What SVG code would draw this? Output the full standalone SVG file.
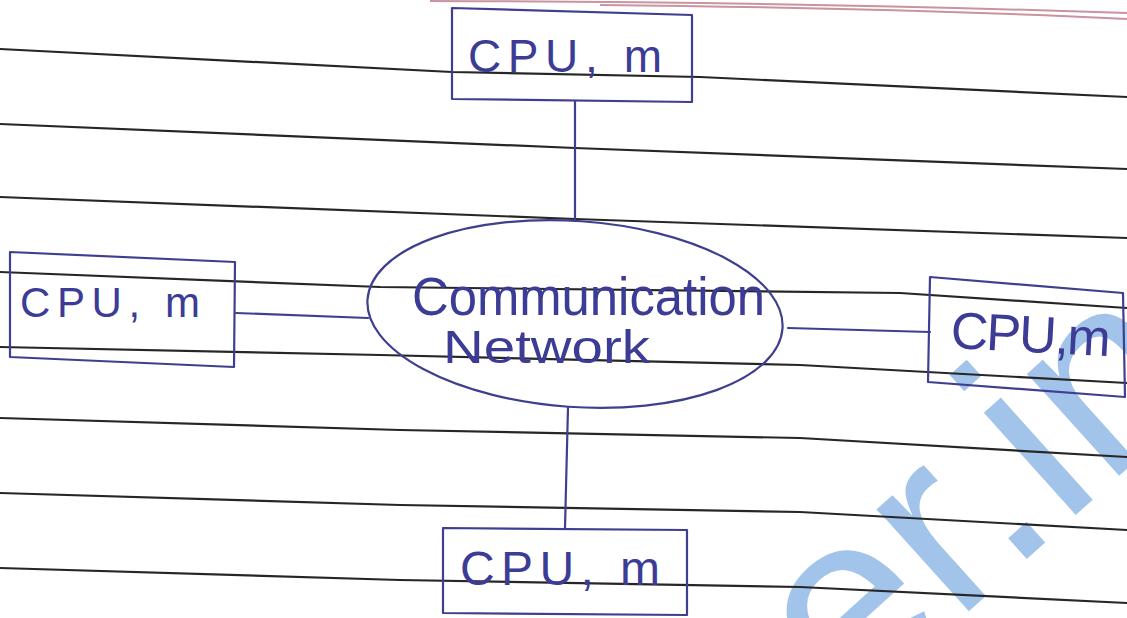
<svg xmlns="http://www.w3.org/2000/svg" width="1127" height="618" viewBox="0 0 1127 618">
<style>
.rule{fill:none;stroke:#262626;stroke-width:2.2;stroke-linejoin:round;stroke-linecap:round}
.pink{fill:none;stroke:#c9939f;stroke-width:2}
.box{fill:none;stroke:#3f3f8f;stroke-width:2.2;stroke-linejoin:round}
.edge{fill:none;stroke:#3f3f8f;stroke-width:2.2;stroke-linecap:round}
.lbl{font-family:"Liberation Sans",Arial,sans-serif;fill:#3c3c96}
.wm{font-family:"Liberation Sans",Arial,sans-serif;fill:#a3c4ea;font-size:260px}
</style>
<rect width="1127" height="618" fill="#ffffff"/>
<g id="watermark">
<text class="wm" x="0" y="0" transform="translate(848,720) rotate(-42)">er.in</text>
</g>
<g id="paper">
<path class="pink" d="M430,1 Q800,2 1127,13"/>
<path class="pink" d="M600,5 Q900,8 1127,19"/>
<polyline class="rule" points="0,49 452,72 700,77 1127,97"/>
<polyline class="rule" points="0,124 575,148 1127,169"/>
<polyline class="rule" points="0,197 575,219 1127,238"/>
<polyline class="rule" points="0,272 380,287 900,293 1127,308"/>
<polyline class="rule" points="0,347 380,355 800,365 1127,383"/>
<polyline class="rule" points="0,418 400,430 800,438 1127,457"/>
<polyline class="rule" points="0,493 400,505 800,512 1127,530"/>
<polyline class="rule" points="0,568 400,580 800,587 1127,603"/>
</g>
<g id="connectors">
<line class="edge" x1="575" y1="101" x2="575" y2="221"/>
<line class="edge" x1="236" y1="313" x2="368" y2="318"/>
<line class="edge" x1="788" y1="328" x2="930" y2="332"/>
<line class="edge" x1="568" y1="407" x2="565" y2="528"/>
</g>
<g id="network">
<ellipse class="box" cx="575" cy="314" rx="208" ry="93" transform="rotate(4 575 314)"/>
<text class="lbl" x="412" y="315" font-size="54" textLength="353" lengthAdjust="spacingAndGlyphs">Communication</text>
<text class="lbl" x="443" y="363" font-size="46" textLength="207" lengthAdjust="spacingAndGlyphs">Network</text>
</g>
<g id="cpu-top">
<polygon class="box" points="452,8 692,15 692,102 452,99"/>
<text class="lbl" x="468" y="72" font-size="46" textLength="194" lengthAdjust="spacing">CPU, m</text>
</g>
<g id="cpu-left">
<polygon class="box" points="10,252 235,262 234,367 10,357"/>
<text class="lbl" x="20" y="317" font-size="42" textLength="180" lengthAdjust="spacing">CPU, m</text>
</g>
<g id="cpu-right">
<polygon class="box" points="930,277 1123,293 1125,397 928,382"/>
<text class="lbl" x="950" y="348" font-size="52" textLength="160" lengthAdjust="spacing" transform="rotate(3 950 348)">CPU,m</text>
</g>
<g id="cpu-bottom">
<polygon class="box" points="443,528 687,530 687,615 443,613"/>
<text class="lbl" x="460" y="585" font-size="48" textLength="200" lengthAdjust="spacing">CPU, m</text>
</g>
</svg>
